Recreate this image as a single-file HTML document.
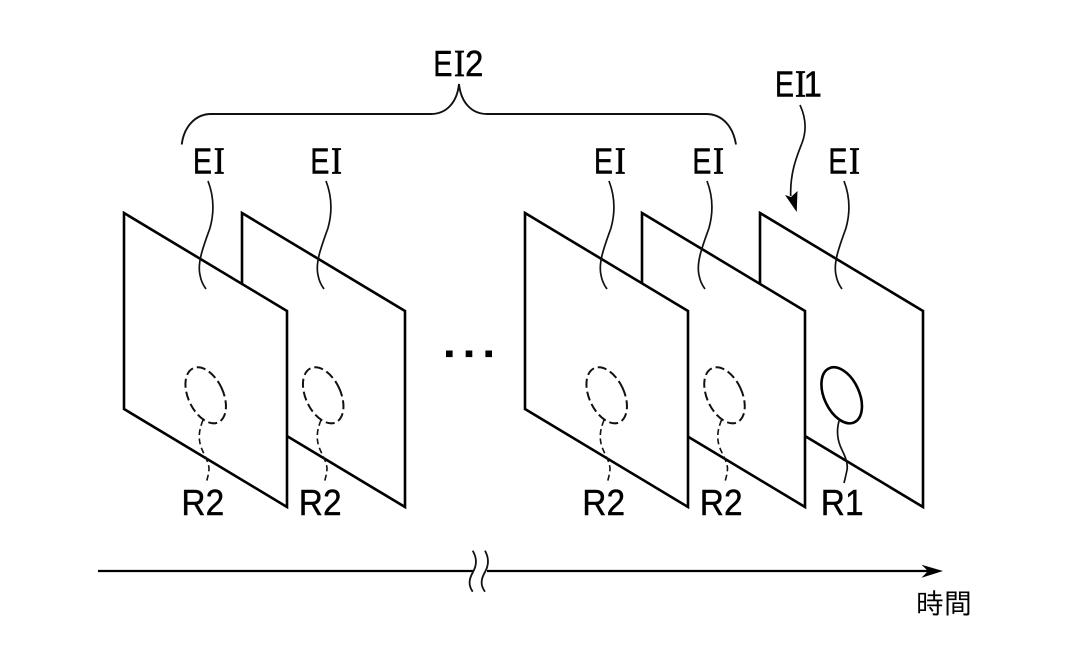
<!DOCTYPE html>
<html><head><meta charset="utf-8">
<style>
html,body{margin:0;padding:0;background:#fff;width:1071px;height:661px;overflow:hidden}
svg{display:block}
.p{fill:#fff;stroke:#000;stroke-width:2.6;stroke-linejoin:miter}
.l{fill:none;stroke:#111;stroke-width:1.7}
.d{fill:none;stroke:#111;stroke-width:1.6;stroke-dasharray:6 3.5}
.e{fill:none;stroke:#111;stroke-width:2;stroke-dasharray:9 4}
.s{font-family:"Liberation Sans",sans-serif;font-size:36px;fill:#000;stroke:#000;stroke-width:.4}
.m{font-family:"Liberation Serif",serif;font-size:38px;fill:#000;stroke:#000;stroke-width:.8;text-anchor:middle}
</style></head><body>
<svg width="1071" height="661" viewBox="0 0 1071 661" xmlns="http://www.w3.org/2000/svg">
<rect width="1071" height="661" fill="#fff"/>

<!-- planes -->
<path class="p" d="M242 213L405 311V507L242 409Z"/>
<path class="p" d="M124 213L287 311V507L124 409Z"/>
<path class="p" d="M760 213L923 311V507L760 409Z"/>
<path class="p" d="M642 213L805 311V507L642 409Z"/>
<path class="p" d="M525 213L688 311V507L525 409Z"/>

<!-- EI leaders -->
<path class="l" d="M208 181C213 194 215 210 210 228C204 245 197 262 200 275C201 281 203 285 206 289"/>
<path class="l" transform="translate(118 0)" d="M208 181C213 194 215 210 210 228C204 245 197 262 200 275C201 281 203 285 206 289"/>
<path class="l" transform="translate(401 0)" d="M208 181C213 194 215 210 210 228C204 245 197 262 200 275C201 281 203 285 206 289"/>
<path class="l" transform="translate(499 0)" d="M208 181C213 194 215 210 210 228C204 245 197 262 200 275C201 281 203 285 206 289"/>
<path class="l" transform="translate(636 0)" d="M208 181C213 194 215 210 210 228C204 245 197 262 200 275C201 281 203 285 206 289"/>

<!-- ellipses -->
<ellipse class="e" cx="205.7" cy="395.3" rx="17.5" ry="29.8" transform="rotate(-25 205.7 395.3)"/>
<ellipse class="e" cx="323.2" cy="395.3" rx="17.5" ry="29.8" transform="rotate(-25 323.2 395.3)"/>
<ellipse class="e" cx="606.7" cy="395.3" rx="17.5" ry="29.8" transform="rotate(-25 606.7 395.3)"/>
<ellipse class="e" cx="724.5" cy="395.3" rx="17.5" ry="29.8" transform="rotate(-25 724.5 395.3)"/>
<ellipse cx="841.7" cy="395.3" rx="17.5" ry="29.8" transform="rotate(-25 841.7 395.3)" fill="none" stroke="#000" stroke-width="2.6"/>

<!-- R leaders -->
<path class="d" d="M203 420C199 430 198 438 201 447C204 455 208 460 209 468C209 474 207 479 206 484"/>
<path class="d" transform="translate(118 0)" d="M203 420C199 430 198 438 201 447C204 455 208 460 209 468C209 474 207 479 206 484"/>
<path class="d" transform="translate(401 0)" d="M203 420C199 430 198 438 201 447C204 455 208 460 209 468C209 474 207 479 206 484"/>
<path class="d" transform="translate(518.5 0)" d="M203 420C199 430 198 438 201 447C204 455 208 460 209 468C209 474 207 479 206 484"/>
<path class="l" d="M839 421C836 432 838 442 842 450C846 458 848 464 847 470C846 475 845 479 844 483"/>

<!-- brace -->
<path class="l" style="stroke-width:1.9" d="M181.7 144.5C184 126 196 114 211 114H431C446 114 457 103 459 84C461 103 472 114 487 114H706C722 114 733 126 736 144.5"/>

<!-- EI1 arrow -->
<path class="l" d="M800 105C806 118 807 130 802 143C797 156 790 172 790.7 196"/>
<path d="M796.7 212L785 195L791 197L797.5 191Z" fill="#000"/>

<!-- dots -->
<rect x="446" y="350.5" width="6.6" height="6.6"/>
<rect x="465.7" y="350.5" width="6.6" height="6.6"/>
<rect x="485.4" y="350.5" width="6.6" height="6.6"/>

<!-- time arrow -->
<path d="M98 571H474M487 571H930" stroke="#000" stroke-width="2.2" fill="none"/>
<path d="M943 571L921.5 564.8L928 571L921.5 577.7Z" fill="#000"/>
<path d="M472.7 550.7C477 558 477 565 473 572C469 579 468 585 472.7 591.7" fill="none" stroke="#111" stroke-width="1.8"/>
<path d="M485 550.7C489 558 489 565 485 572C481 579 480 585 485 591.7" fill="none" stroke="#111" stroke-width="1.8"/>

<!-- EI labels -->
<text class="s" transform="translate(192.9 173.3) scale(.8 1)">E</text><text class="m" transform="translate(219.2 173.3) scale(.85 1)">I</text>
<text class="s" transform="translate(310.2 173.3) scale(.8 1)">E</text><text class="m" transform="translate(336.5 173.3) scale(.85 1)">I</text>
<text class="s" transform="translate(593.9 173.3) scale(.8 1)">E</text><text class="m" transform="translate(620.2 173.3) scale(.85 1)">I</text>
<text class="s" transform="translate(692.2 173.3) scale(.8 1)">E</text><text class="m" transform="translate(718.5 173.3) scale(.85 1)">I</text>
<text class="s" transform="translate(828.2 173.3) scale(.8 1)">E</text><text class="m" transform="translate(854.5 173.3) scale(.85 1)">I</text>

<text class="s" transform="translate(433.2 76) scale(.8 1)">E</text><text class="m" transform="translate(459.5 76) scale(.85 1)">I</text><text class="s" transform="translate(465 76) scale(.92 1)">2</text>
<text class="s" transform="translate(774.9 96.7) scale(.8 1)">E</text><text class="m" transform="translate(800.5 96.7) scale(.85 1)">I</text><text class="s" transform="translate(803.5 96.7) scale(.92 1)">1</text>

<!-- R labels -->
<text class="s" transform="translate(181.4 515) scale(.93 1)">R2</text>
<text class="s" transform="translate(298.8 515) scale(.93 1)">R2</text>
<text class="s" transform="translate(582.3 515) scale(.93 1)">R2</text>
<text class="s" transform="translate(699.8 515) scale(.93 1)">R2</text>
<text class="s" transform="translate(820.8 515) scale(.93 1)">R1</text>

<text x="916" y="613.5" style="font-family:'Liberation Sans','IPAGothic','Noto Sans CJK JP',sans-serif;font-size:28px;fill:#000">時間</text>
</svg>
</body></html>
